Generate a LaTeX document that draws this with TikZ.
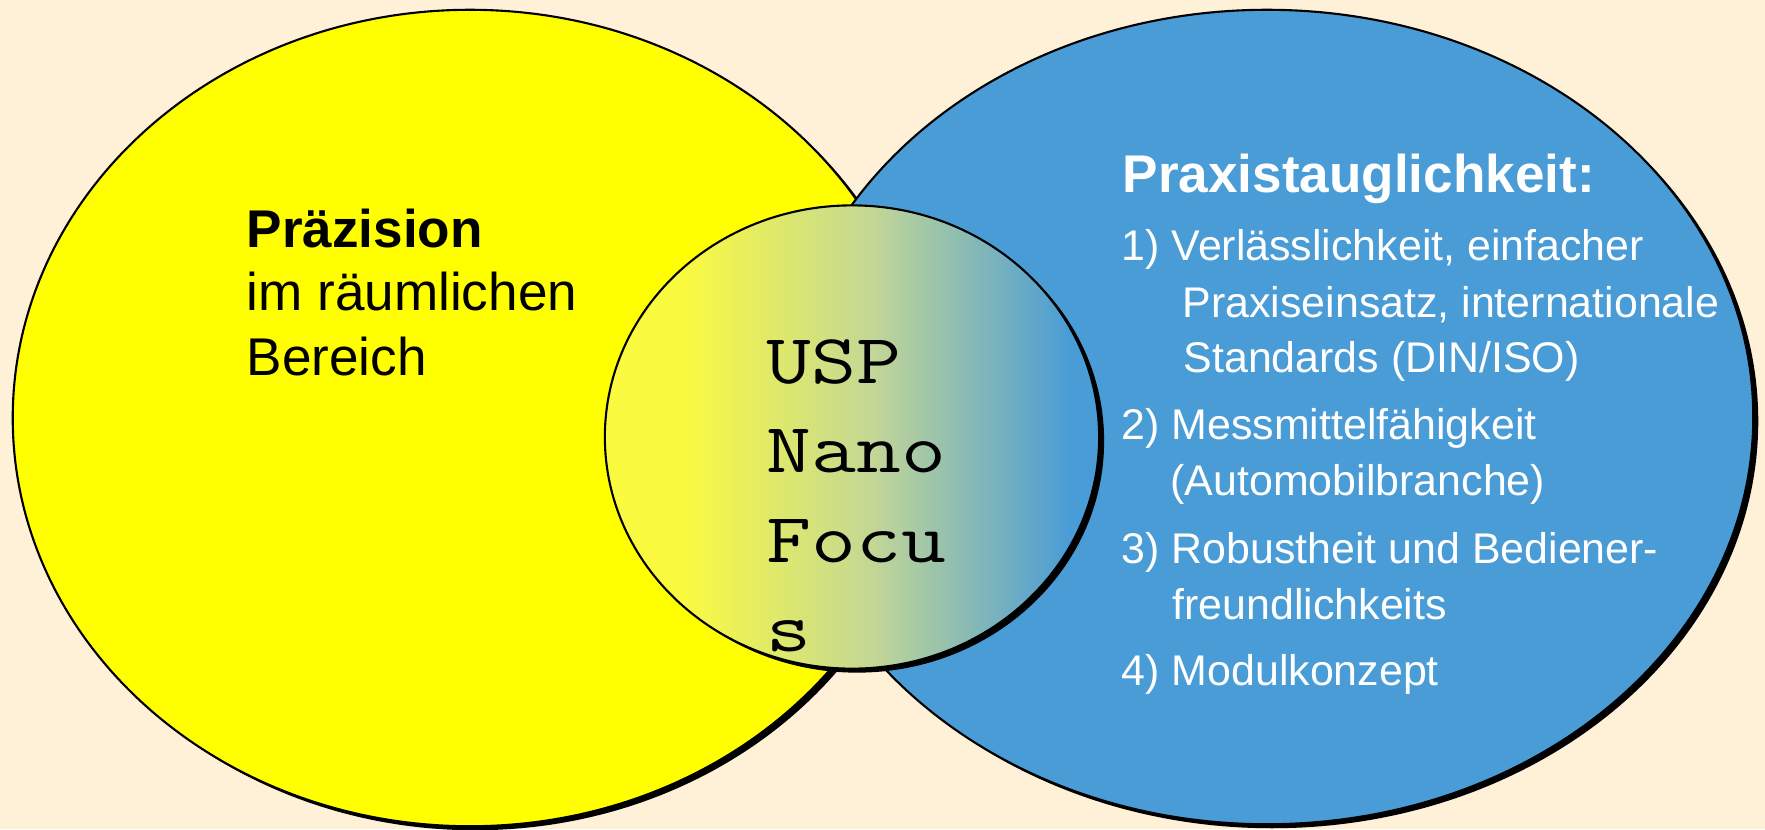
\documentclass[tikz,border=0pt]{standalone}
\usepackage{fontspec}
\setmainfont{Liberation Sans}
\usetikzlibrary{shapes.geometric,shadows}

\definecolor{bgcream}{RGB}{255,240,216}
\definecolor{precyellow}{RGB}{255,255,0}
\definecolor{praxblue}{RGB}{74,156,214}
\definecolor{fadeyellow}{RGB}{250,250,65}
\definecolor{fademid}{RGB}{195,215,150}
\pgfdeclarehorizontalshading{uspfade}{100bp}{color(0bp)=(fadeyellow); color(33bp)=(fadeyellow); color(52bp)=(fademid); color(72bp)=(praxblue); color(100bp)=(praxblue)}

\begin{document}
\begin{tikzpicture}[x=0.01cm, y=-0.01cm,
    blob/.style={ellipse, draw, line width=0.6pt, inner sep=0pt,
      drop shadow={shadow xshift=0.05cm, shadow yshift=-0.04cm, fill=black, opacity=1}},
    lefttext/.style={anchor=base west, inner sep=0pt, font=\fontsize{15.1}{18}\selectfont},
    righttext/.style={anchor=base west, inner sep=0pt, text=white, font=\fontsize{12.2}{14}\selectfont},
    usptext/.style={anchor=base west, inner sep=0pt, font=\ttfamily\fontsize{20}{24}\selectfont}]
  \useasboundingbox[fill=bgcream] (0,0) rectangle (1765,829);

  % the three areas
  \node[blob, fill=precyellow, minimum width=9.14cm, minimum height=8.16cm] (prec) at (470,418) {};
  \node[blob, fill=praxblue, minimum width=9.72cm, minimum height=8.14cm] (prax) at (1267,417) {};
  \node[blob, shade, shading=uspfade, minimum width=4.94cm, minimum height=4.63cm] (usp) at (852,437) {};

  % left text
  \node[lefttext] (prec1) at (246,247) {\textbf{Präzision}};
  \node[lefttext] (prec2) at (246,310) {im räumlichen};
  \node[lefttext] (prec3) at (246,375) {Bereich};

  % right text
  \node[righttext, font=\bfseries\fontsize{15.1}{18}\selectfont] (praxhead) at (1122,192) {Praxistauglichkeit:};
  \node[righttext] (prax1a) at (1121,260) {1) Verlässlichkeit, einfacher};
  \node[righttext] (prax1b) at (1182,317) {Praxiseinsatz, internationale};
  \node[righttext] (prax1c) at (1183,372) {Standards (DIN/ISO)};
  \node[righttext] (prax2a) at (1121,439) {2) Messmittelfähigkeit};
  \node[righttext] (prax2b) at (1170,495) {(Automobilbranche)};
  \node[righttext] (prax3a) at (1121,563) {3) Robustheit und Bediener-};
  \node[righttext] (prax3b) at (1172,619) {freundlichkeits};
  \node[righttext] (prax4) at (1121,685) {4) Modulkonzept};

  % middle text
  \foreach \w [count=\i] in {USP,Nano,Focu,s}
    \node[usptext] (usp\i) at (766,{383+89.5*(\i-1)}) {\scalebox{1.24}[1]{\w}};
\end{tikzpicture}
\end{document}
